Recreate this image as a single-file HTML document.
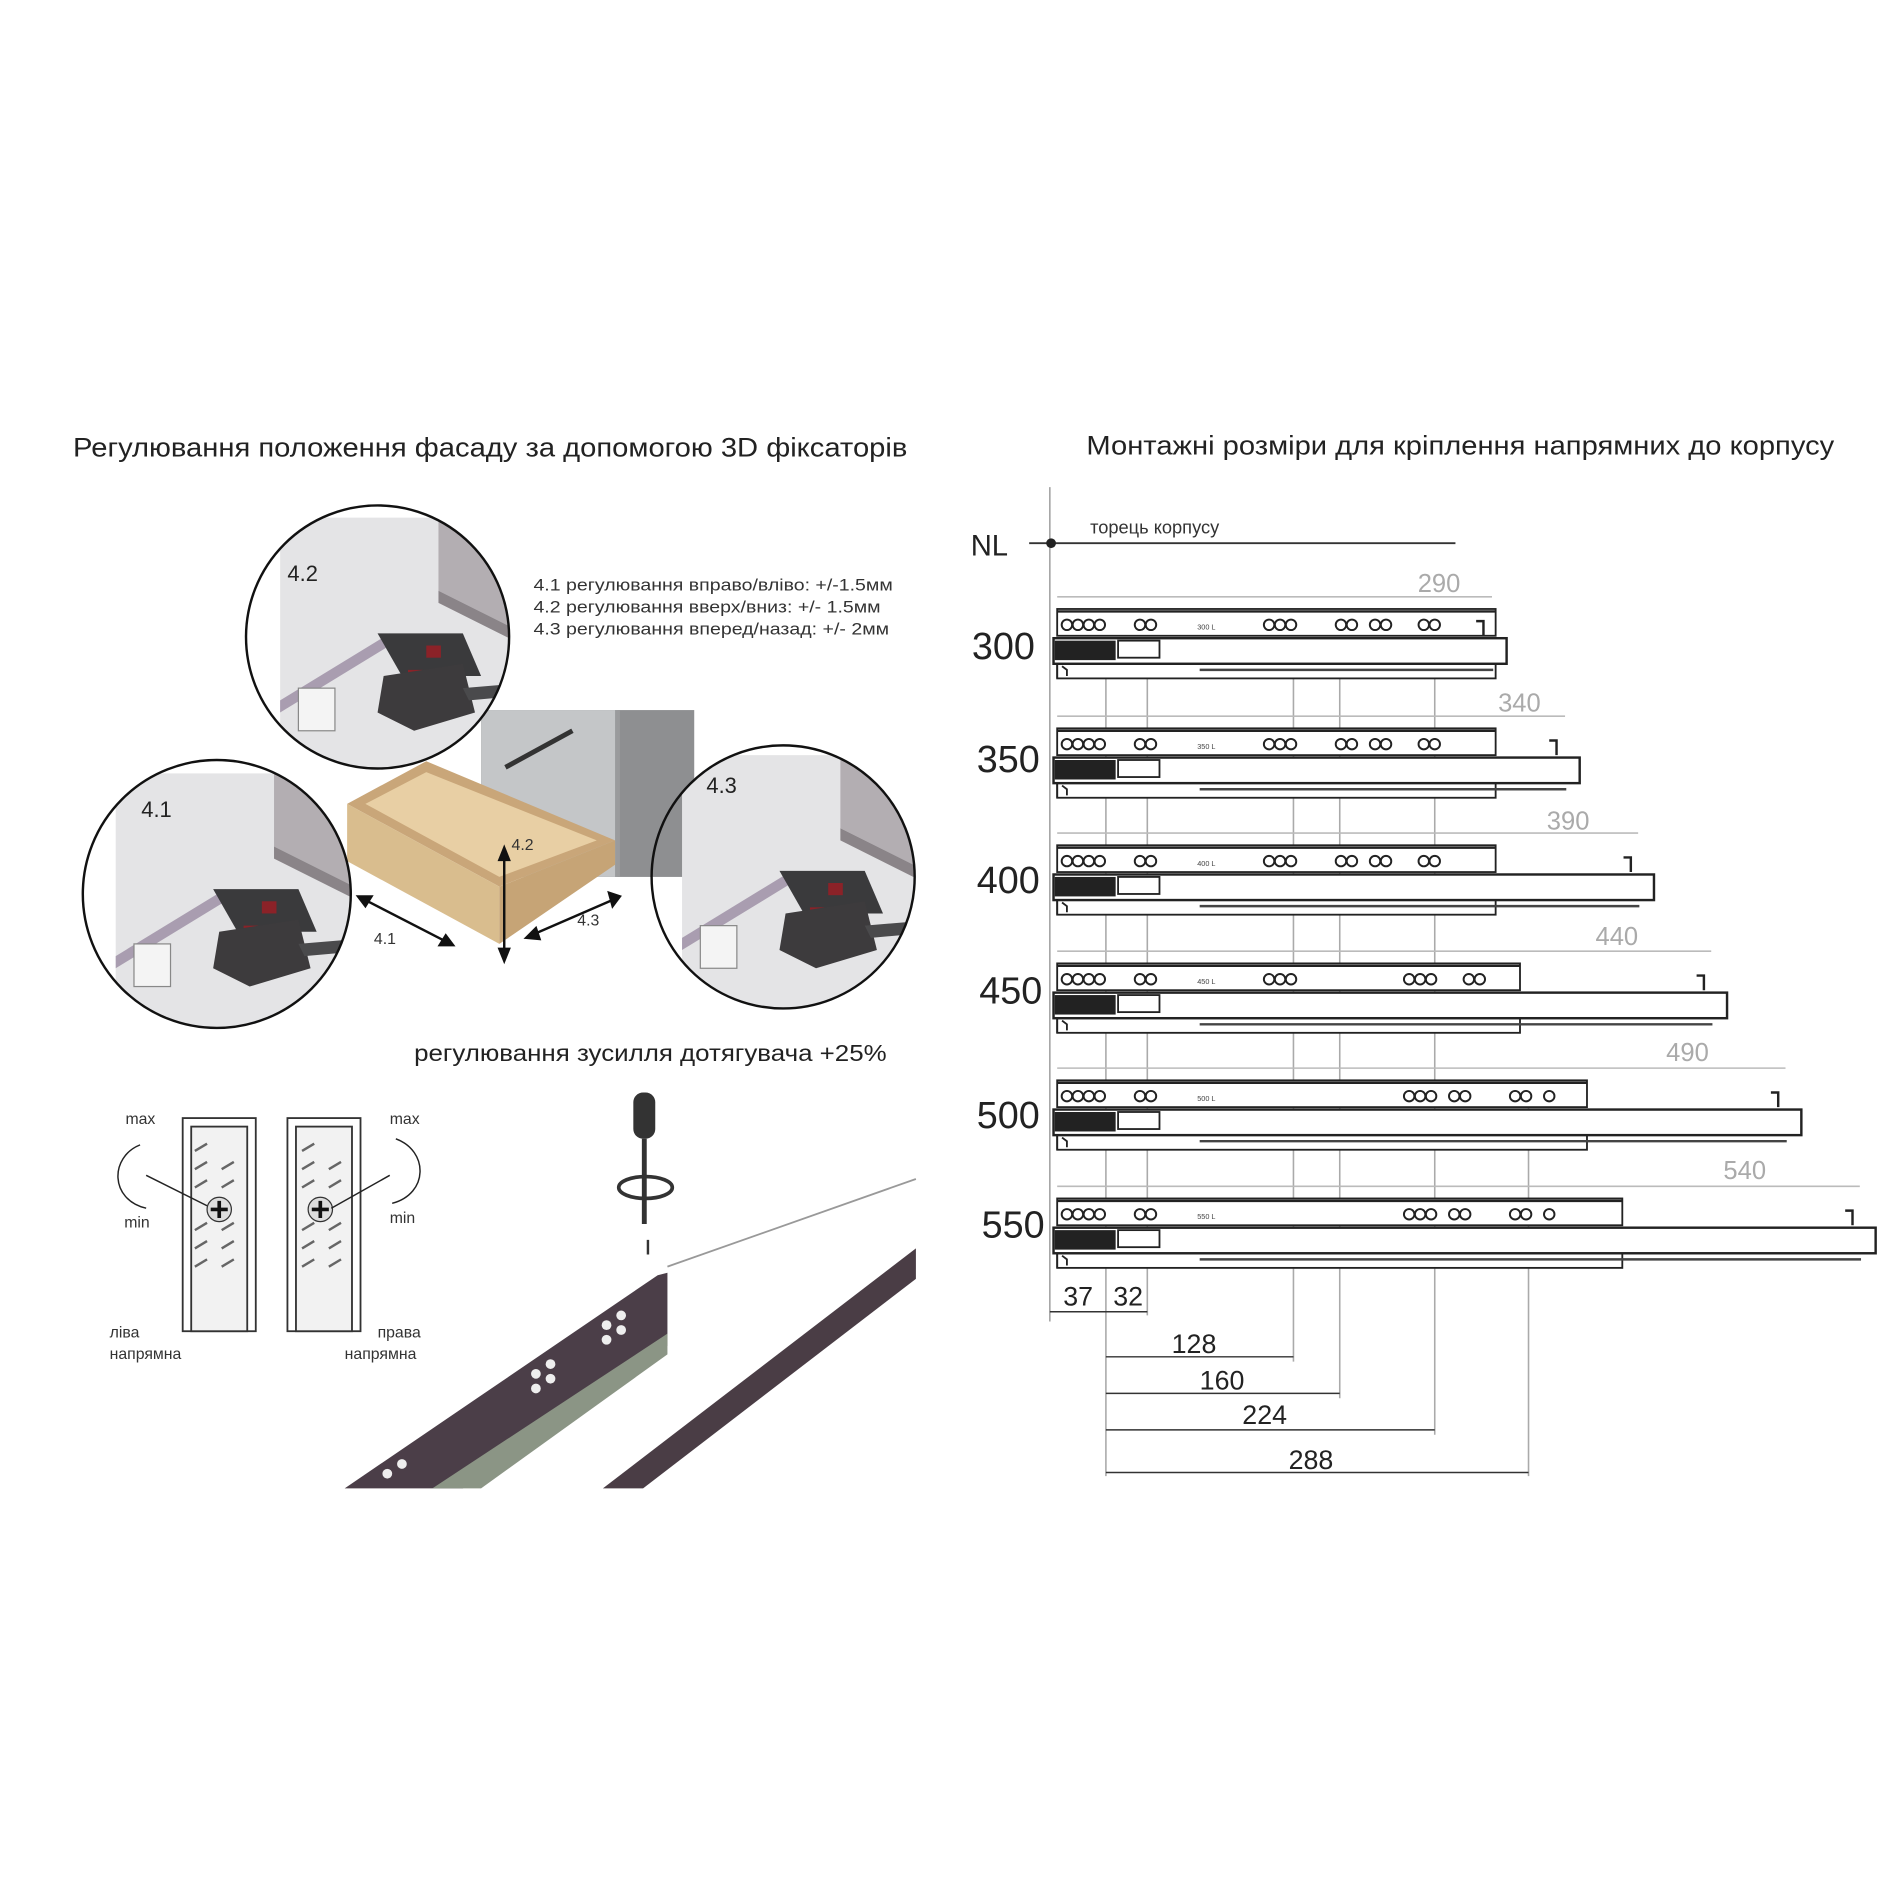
<!DOCTYPE html>
<html><head><meta charset="utf-8"><style>
html,body{margin:0;padding:0;background:#fff}
svg{display:block}
text{font-family:"Liberation Sans",sans-serif}
</style></head><body>
<svg width="1900" height="1900" viewBox="0 0 1560 1560" xmlns="http://www.w3.org/2000/svg">
<rect width="1560" height="1560" fill="#fff"/>
<!-- titles -->
<text x="60" y="375" font-size="22" fill="#222" textLength="685" lengthAdjust="spacingAndGlyphs">Регулювання положення фасаду за допомогою 3D фіксаторів</text>
<text x="892" y="373" font-size="22" fill="#222" textLength="614" lengthAdjust="spacingAndGlyphs">Монтажні розміри для кріплення напрямних до корпусу</text>

<!-- legend -->
<g font-size="14" fill="#333">
<text x="438" y="485" textLength="295" lengthAdjust="spacingAndGlyphs">4.1 регулювання вправо/вліво: +/-1.5мм</text>
<text x="438" y="503" textLength="285" lengthAdjust="spacingAndGlyphs">4.2 регулювання вверх/вниз: +/- 1.5мм</text>
<text x="438" y="521" textLength="292" lengthAdjust="spacingAndGlyphs">4.3 регулювання вперед/назад: +/- 2мм</text>
</g>

<!-- cabinet + drawer -->
<rect x="395" y="583" width="175" height="137" fill="#8e8f91"/>
<rect x="395" y="583" width="112" height="137" fill="#c4c6c8"/>
<rect x="505" y="583" width="4" height="137" fill="#9a9b9d"/>
<line x1="415" y1="630" x2="470" y2="600" stroke="#333" stroke-width="4"/>
<polygon points="285,660 350,625 505,690 410,728" fill="#c9a679"/>
<polygon points="300,660 350,634 490,690 410,720" fill="#e8cfa4"/>
<polygon points="285,660 410,728 410,775 285,707" fill="#d9bd8e"/>
<polygon points="410,728 505,690 505,710 410,775" fill="#c6a476"/>
<g stroke="#111" stroke-width="2" fill="#111">
<line x1="414" y1="700" x2="414" y2="785"/><polygon points="414,696 410,706 418,706"/><polygon points="414,789 410,779 418,779"/>
<line x1="298" y1="738" x2="368" y2="774"/><polygon points="294,736 305,736 300,744"/><polygon points="372,776 361,776 366,768"/>
<line x1="436" y1="768" x2="505" y2="738"/><polygon points="432,770 440,762 443,771"/><polygon points="509,736 500,733 503,744"/>
</g>
<g font-size="13" fill="#333"><text x="420" y="698">4.2</text><text x="307" y="775">4.1</text><text x="474" y="760">4.3</text></g>

<!-- circles -->
<defs>
<clipPath id="c1"><circle cx="310" cy="523" r="108"/></clipPath>
<clipPath id="c2"><circle cx="178" cy="734" r="110"/></clipPath>
<clipPath id="c3"><circle cx="643" cy="720" r="108"/></clipPath>
<g id="mech">
<rect x="-110" y="-120" width="240" height="240" fill="#e4e4e6"/>
<polygon points="20,-120 130,-120 130,-30 100,-20 20,-60" fill="#b3aeb2"/>
<polygon points="20,-60 100,-20 100,-10 20,-50" fill="#8a8488"/>
<polygon points="-110,30 -20,-25 -15,-18 -110,40" fill="#a99db0"/>
<rect x="-95" y="20" width="30" height="35" fill="#f4f4f4" stroke="#888"/>
<polygon points="-30,-25 40,-25 55,10 -10,10" fill="#3a3a3c"/>
<rect x="10" y="-15" width="12" height="10" fill="#8b2228"/>
<rect x="-5" y="5" width="12" height="10" fill="#8b2228"/>
<path d="M-25,10 L40,0 L50,40 L0,55 L-30,40 Z" fill="#3d3b3d"/>
<polygon points="40,20 100,15 102,25 45,30" fill="#4a4a4c"/>
</g>
</defs>
<g clip-path="url(#c1)"><use href="#mech" x="340" y="545"/></g>
<g clip-path="url(#c2)"><use href="#mech" x="205" y="755"/></g>
<g clip-path="url(#c3)"><use href="#mech" x="670" y="740"/></g>
<circle cx="310" cy="523" r="108" fill="none" stroke="#111" stroke-width="2"/>
<circle cx="178" cy="734" r="110" fill="none" stroke="#111" stroke-width="2"/>
<circle cx="643" cy="720" r="108" fill="none" stroke="#111" stroke-width="2"/>
<g font-size="18" fill="#222"><text x="236" y="477">4.2</text><text x="116" y="671">4.1</text><text x="580" y="651">4.3</text></g>

<!-- force adjust -->
<text x="340" y="871" font-size="19" fill="#222" textLength="388" lengthAdjust="spacingAndGlyphs">регулювання зусилля дотягувача +25%</text>
<g font-size="13" fill="#333">
<text x="103" y="923">max</text><text x="102" y="1008">min</text>
<text x="90" y="1098">ліва</text><text x="90" y="1116">напрямна</text>
<text x="320" y="923">max</text><text x="320" y="1004">min</text>
<text x="310" y="1098">права</text><text x="283" y="1116">напрямна</text>
</g>
<g stroke="#333" fill="#fff" stroke-width="1.5">
<rect x="150" y="918" width="60" height="175"/><rect x="157" y="925" width="46" height="168" fill="#f2f2f2"/>
<rect x="236" y="918" width="60" height="175"/><rect x="243" y="925" width="46" height="168" fill="#f2f2f2"/>
</g>
<g fill="none" stroke="#666" stroke-width="2">
<path d="M160,945 l10,-6 M160,960 l10,-6 M160,975 l10,-6 M160,1010 l10,-6 M160,1025 l10,-6 M160,1040 l10,-6 M182,960 l10,-6 M182,975 l10,-6 M182,1010 l10,-6 M182,1025 l10,-6 M182,1040 l10,-6"/>
<path d="M248,945 l10,-6 M248,960 l10,-6 M248,975 l10,-6 M248,1010 l10,-6 M248,1025 l10,-6 M248,1040 l10,-6 M270,960 l10,-6 M270,975 l10,-6 M270,1010 l10,-6 M270,1025 l10,-6 M270,1040 l10,-6"/>
</g>
<circle cx="180" cy="993" r="10" fill="#ddd" stroke="#333"/><path d="M173,993h14M180,986v14" stroke="#111" stroke-width="3"/>
<circle cx="263" cy="993" r="10" fill="#ddd" stroke="#333"/><path d="M256,993h14M263,986v14" stroke="#111" stroke-width="3"/>
<g fill="none" stroke="#222" stroke-width="1.2">
<path d="M115,940 C90,950 90,985 120,992"/><line x1="120" y1="965" x2="170" y2="990"/>
<path d="M325,935 C352,945 352,980 322,988"/><line x1="320" y1="965" x2="272" y2="992"/>
</g>
<!-- screwdriver -->
<rect x="520" y="897" width="18" height="38" rx="8" fill="#333"/>
<line x1="529" y1="935" x2="529" y2="1005" stroke="#333" stroke-width="4"/>
<ellipse cx="530" cy="975" rx="22" ry="9" fill="none" stroke="#333" stroke-width="3"/>
<line x1="532" y1="1018" x2="532" y2="1030" stroke="#333" stroke-width="2"/>
<!-- rail illustration -->
<line x1="548" y1="1040" x2="752" y2="968" stroke="#999" stroke-width="1.5"/>
<polygon points="495,1222 752,1025 752,1050 528,1222" fill="#4a3d45"/>
<polygon points="283,1222 540,1047 548,1045 548,1105 380,1222" fill="#4b3e48"/>
<polygon points="355,1222 548,1095 548,1112 395,1222" fill="#8b9585"/>
<g fill="#eee">
<circle cx="440" cy="1128" r="4"/><circle cx="452" cy="1120" r="4"/><circle cx="440" cy="1140" r="4"/><circle cx="452" cy="1132" r="4"/>
<circle cx="498" cy="1088" r="4"/><circle cx="510" cy="1080" r="4"/><circle cx="498" cy="1100" r="4"/><circle cx="510" cy="1092" r="4"/>
<circle cx="318" cy="1210" r="4"/><circle cx="330" cy="1202" r="4"/>
</g>

<!-- right diagram -->
<line x1="862" y1="400" x2="862" y2="1085" stroke="#888" stroke-width="1"/>
<text x="797" y="456" font-size="24" fill="#222">NL</text>
<line x1="845" y1="446" x2="1195" y2="446" stroke="#333" stroke-width="1.5"/>
<circle cx="863" cy="446" r="4" fill="#222"/>
<text x="895" y="438" font-size="15" fill="#333">торець корпусу</text>

<g stroke="#aaa" stroke-width="1.3">
<line x1="908" y1="525" x2="908" y2="1212"/><line x1="942" y1="525" x2="942" y2="1080"/>
<line x1="1062" y1="525" x2="1062" y2="1118"/><line x1="1100" y1="525" x2="1100" y2="1148"/>
<line x1="1178" y1="525" x2="1178" y2="1178"/><line x1="1255" y1="900" x2="1255" y2="1212"/>
</g>
<g stroke="#333" stroke-width="1.2">
<line x1="862" y1="1077" x2="942" y2="1077"/>
<line x1="908" y1="1114" x2="1062" y2="1114"/><line x1="908" y1="1144" x2="1100" y2="1144"/>
<line x1="908" y1="1174" x2="1178" y2="1174"/><line x1="908" y1="1209" x2="1255" y2="1209"/>
</g>
<g font-size="22" fill="#222">
<text x="873" y="1072">37</text><text x="914" y="1072">32</text>
<text x="962" y="1111">128</text><text x="985" y="1141">160</text>
<text x="1020" y="1169">224</text><text x="1058" y="1206">288</text>
</g>

<defs>
<g id="holes" fill="#fff" stroke="#222" stroke-width="1.6">
<circle cx="876" cy="13" r="4.3"/><circle cx="885" cy="13" r="4.3"/><circle cx="894" cy="13" r="4.3"/><circle cx="903" cy="13" r="4.3"/>
<circle cx="936" cy="13" r="4.3"/><circle cx="945" cy="13" r="4.3"/>
</g>
<g id="holesA" fill="#fff" stroke="#222" stroke-width="1.6">
<circle cx="1042" cy="13" r="4.3"/><circle cx="1051" cy="13" r="4.3"/><circle cx="1060" cy="13" r="4.3"/>
<circle cx="1101" cy="13" r="4.3"/><circle cx="1110" cy="13" r="4.3"/><circle cx="1129" cy="13" r="4.3"/><circle cx="1138" cy="13" r="4.3"/>
<circle cx="1169" cy="13" r="4.3"/><circle cx="1178" cy="13" r="4.3"/>
</g>
<g id="holesB" fill="#fff" stroke="#222" stroke-width="1.6">
<circle cx="1042" cy="13" r="4.3"/><circle cx="1051" cy="13" r="4.3"/><circle cx="1060" cy="13" r="4.3"/>
<circle cx="1157" cy="13" r="4.3"/><circle cx="1166" cy="13" r="4.3"/><circle cx="1175" cy="13" r="4.3"/>
<circle cx="1206" cy="13" r="4.3"/><circle cx="1215" cy="13" r="4.3"/>
</g>
<g id="holesC" fill="#fff" stroke="#222" stroke-width="1.6">
<circle cx="1157" cy="13" r="4.3"/><circle cx="1166" cy="13" r="4.3"/><circle cx="1175" cy="13" r="4.3"/>
<circle cx="1194" cy="13" r="4.3"/><circle cx="1203" cy="13" r="4.3"/>
<circle cx="1244" cy="13" r="4.3"/><circle cx="1253" cy="13" r="4.3"/><circle cx="1272" cy="13" r="4.3"/>
</g>
<g id="mechL">
<rect x="866" y="26" width="50" height="16" fill="#222"/>
<rect x="918" y="26" width="34" height="14" fill="#fff" stroke="#222" stroke-width="1.5"/>
<path d="M868,45 v12 M872,47 l4,3 v5" stroke="#222" fill="none" stroke-width="1.5"/>
</g>
</defs>

<!-- 300 -->
<g transform="translate(0,500)">
<line x1="868" y1="-10" x2="1225" y2="-10" stroke="#bbb" stroke-width="1.3"/>
<rect x="868" y="0" width="360" height="22" fill="#fff" stroke="#222" stroke-width="1.5"/><line x1="868" y1="2" x2="1228" y2="2" stroke="#222" stroke-width="2"/>
<rect x="868" y="45" width="360" height="12" fill="#fff" stroke="#222" stroke-width="1.5"/>
<rect x="865" y="24" width="372" height="21" fill="#fff" stroke="#222" stroke-width="2"/>
<line x1="985" y1="50" x2="1226" y2="50" stroke="#444" stroke-width="2"/>
<path d="M1212,10 h6 v12" stroke="#222" fill="none" stroke-width="2"/>
<use href="#holes"/><use href="#holesA"/><use href="#mechL"/>
<text x="983" y="17" font-size="6" fill="#444">300 L</text>
</g>
<text x="1164" y="486" font-size="21" fill="#aaa">290</text>
<text x="798" y="541" font-size="31" fill="#222">300</text>
<!-- 350 -->
<g transform="translate(0,598)">
<line x1="868" y1="-10" x2="1285" y2="-10" stroke="#bbb" stroke-width="1.3"/>
<rect x="868" y="0" width="360" height="22" fill="#fff" stroke="#222" stroke-width="1.5"/><line x1="868" y1="2" x2="1228" y2="2" stroke="#222" stroke-width="2"/>
<rect x="868" y="45" width="360" height="12" fill="#fff" stroke="#222" stroke-width="1.5"/>
<rect x="865" y="24" width="432" height="21" fill="#fff" stroke="#222" stroke-width="2"/>
<line x1="985" y1="50" x2="1286" y2="50" stroke="#444" stroke-width="2"/>
<path d="M1272,10 h6 v12" stroke="#222" fill="none" stroke-width="2"/>
<use href="#holes"/><use href="#holesA"/><use href="#mechL"/>
<text x="983" y="17" font-size="6" fill="#444">350 L</text>
</g>
<text x="1230" y="584" font-size="21" fill="#aaa">340</text>
<text x="802" y="634" font-size="31" fill="#222">350</text>
<!-- 400 -->
<g transform="translate(0,694)">
<line x1="868" y1="-10" x2="1345" y2="-10" stroke="#bbb" stroke-width="1.3"/>
<rect x="868" y="0" width="360" height="22" fill="#fff" stroke="#222" stroke-width="1.5"/><line x1="868" y1="2" x2="1228" y2="2" stroke="#222" stroke-width="2"/>
<rect x="868" y="45" width="360" height="12" fill="#fff" stroke="#222" stroke-width="1.5"/>
<rect x="865" y="24" width="493" height="21" fill="#fff" stroke="#222" stroke-width="2"/>
<line x1="985" y1="50" x2="1346" y2="50" stroke="#444" stroke-width="2"/>
<path d="M1333,10 h6 v12" stroke="#222" fill="none" stroke-width="2"/>
<use href="#holes"/><use href="#holesA"/><use href="#mechL"/>
<text x="983" y="17" font-size="6" fill="#444">400 L</text>
</g>
<text x="1270" y="681" font-size="21" fill="#aaa">390</text>
<text x="802" y="733" font-size="31" fill="#222">400</text>
<!-- 450 -->
<g transform="translate(0,791)">
<line x1="868" y1="-10" x2="1405" y2="-10" stroke="#bbb" stroke-width="1.3"/>
<rect x="868" y="0" width="380" height="22" fill="#fff" stroke="#222" stroke-width="1.5"/><line x1="868" y1="2" x2="1248" y2="2" stroke="#222" stroke-width="2"/>
<rect x="868" y="45" width="380" height="12" fill="#fff" stroke="#222" stroke-width="1.5"/>
<rect x="865" y="24" width="553" height="21" fill="#fff" stroke="#222" stroke-width="2"/>
<line x1="985" y1="50" x2="1406" y2="50" stroke="#444" stroke-width="2"/>
<path d="M1393,10 h6 v12" stroke="#222" fill="none" stroke-width="2"/>
<use href="#holes"/><use href="#holesB"/><use href="#mechL"/>
<text x="983" y="17" font-size="6" fill="#444">450 L</text>
</g>
<text x="1310" y="776" font-size="21" fill="#aaa">440</text>
<text x="804" y="824" font-size="31" fill="#222">450</text>
<!-- 500 -->
<g transform="translate(0,887)">
<line x1="868" y1="-10" x2="1466" y2="-10" stroke="#bbb" stroke-width="1.3"/>
<rect x="868" y="0" width="435" height="22" fill="#fff" stroke="#222" stroke-width="1.5"/><line x1="868" y1="2" x2="1303" y2="2" stroke="#222" stroke-width="2"/>
<rect x="868" y="45" width="435" height="12" fill="#fff" stroke="#222" stroke-width="1.5"/>
<rect x="865" y="24" width="614" height="21" fill="#fff" stroke="#222" stroke-width="2"/>
<line x1="985" y1="50" x2="1467" y2="50" stroke="#444" stroke-width="2"/>
<path d="M1454,10 h6 v12" stroke="#222" fill="none" stroke-width="2"/>
<use href="#holes"/><use href="#holesC"/><use href="#mechL"/>
<text x="983" y="17" font-size="6" fill="#444">500 L</text>
</g>
<text x="1368" y="871" font-size="21" fill="#aaa">490</text>
<text x="802" y="926" font-size="31" fill="#222">500</text>
<!-- 550 -->
<g transform="translate(0,984)">
<line x1="868" y1="-10" x2="1527" y2="-10" stroke="#bbb" stroke-width="1.3"/>
<rect x="868" y="0" width="464" height="22" fill="#fff" stroke="#222" stroke-width="1.5"/><line x1="868" y1="2" x2="1332" y2="2" stroke="#222" stroke-width="2"/>
<rect x="868" y="45" width="464" height="12" fill="#fff" stroke="#222" stroke-width="1.5"/>
<rect x="865" y="24" width="675" height="21" fill="#fff" stroke="#222" stroke-width="2"/>
<line x1="985" y1="50" x2="1528" y2="50" stroke="#444" stroke-width="2"/>
<path d="M1515,10 h6 v12" stroke="#222" fill="none" stroke-width="2"/>
<use href="#holes"/><use href="#holesC"/><use href="#mechL"/>
<text x="983" y="17" font-size="6" fill="#444">550 L</text>
</g>
<text x="1415" y="968" font-size="21" fill="#aaa">540</text>
<text x="806" y="1016" font-size="31" fill="#222">550</text>
</svg>
</body></html>
